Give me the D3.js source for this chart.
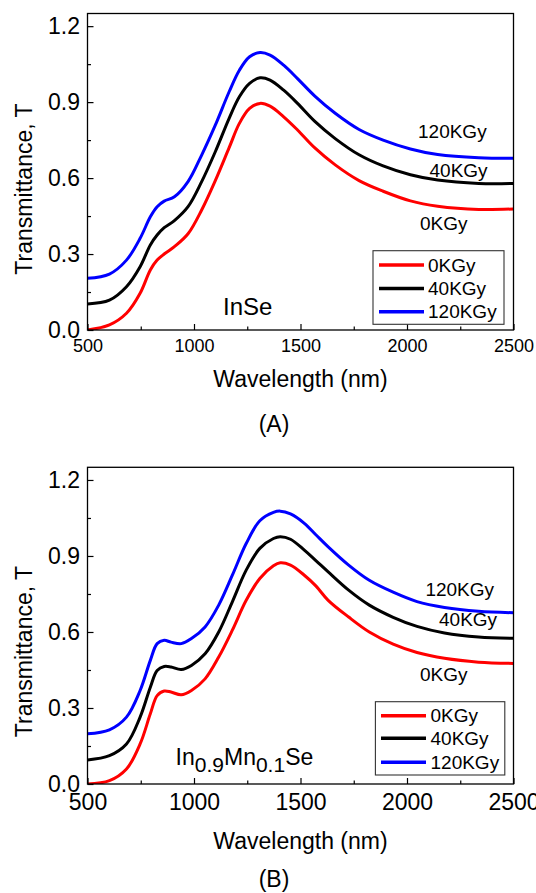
<!DOCTYPE html>
<html>
<head>
<meta charset="utf-8">
<script src="https://cdn.jsdelivr.net/npm/d3@7"></script>
<style>
  html, body { margin: 0; padding: 0; background: #fff; }
  svg { display: block; }
  text { font-family: "Liberation Sans", Arial, sans-serif; fill: #000; }
</style>
</head>
<body>
<svg id="chart" width="536" height="893"></svg>
<script>
// ---------------- DATA ----------------
const seriesNames = ["0KGy", "40KGy", "120KGy"];
const seriesColors = ["#ff0000", "#000000", "#0000ff"];

const xTickValues = [500, 1000, 1500, 2000, 2500];
const xMinorTickValues = [750, 1250, 1750, 2250];
const yTickValues = [0, 0.3, 0.6, 0.9, 1.2];
const yMinorTickValues = [0.15, 0.45, 0.75, 1.05];

// Panel A: InSe
const wavelengthA = [500, 603, 683, 747, 795, 827, 860, 908, 972, 1036, 1100, 1165, 1213, 1261, 1310, 1357, 1421, 1486, 1566, 1663, 1775, 1888, 2016, 2144, 2337, 2500];
const inse0KGy   = [0.000, 0.020, 0.066, 0.145, 0.237, 0.276, 0.300, 0.329, 0.380, 0.474, 0.590, 0.720, 0.816, 0.875, 0.895, 0.884, 0.842, 0.790, 0.720, 0.652, 0.590, 0.548, 0.510, 0.489, 0.476, 0.478];
const inse40KGy  = [0.103, 0.118, 0.171, 0.250, 0.336, 0.375, 0.404, 0.432, 0.487, 0.586, 0.704, 0.836, 0.921, 0.974, 0.996, 0.987, 0.947, 0.895, 0.825, 0.756, 0.692, 0.648, 0.613, 0.592, 0.579, 0.579];
const inse120KGy = [0.204, 0.221, 0.276, 0.362, 0.447, 0.487, 0.509, 0.526, 0.586, 0.691, 0.809, 0.941, 1.026, 1.079, 1.096, 1.086, 1.046, 0.993, 0.925, 0.856, 0.792, 0.750, 0.715, 0.693, 0.680, 0.678];

// Panel B: In0.9Mn0.1Se
const wavelengthB = [500, 603, 683, 747, 795, 827, 860, 892, 940, 988, 1052, 1116, 1180, 1245, 1309, 1373, 1405, 1453, 1518, 1572, 1630, 1726, 1823, 1935, 2047, 2176, 2336, 2500];
const mn0KGy   = [0.000, 0.013, 0.059, 0.158, 0.277, 0.349, 0.367, 0.363, 0.352, 0.369, 0.415, 0.501, 0.607, 0.725, 0.811, 0.861, 0.873, 0.864, 0.824, 0.782, 0.725, 0.659, 0.600, 0.552, 0.519, 0.496, 0.481, 0.476];
const mn40KGy  = [0.095, 0.112, 0.158, 0.264, 0.382, 0.448, 0.464, 0.462, 0.452, 0.468, 0.514, 0.600, 0.719, 0.844, 0.930, 0.969, 0.976, 0.966, 0.923, 0.882, 0.837, 0.765, 0.706, 0.658, 0.622, 0.596, 0.580, 0.575];
const mn120KGy = [0.198, 0.214, 0.264, 0.369, 0.488, 0.554, 0.567, 0.560, 0.554, 0.574, 0.620, 0.706, 0.824, 0.949, 1.039, 1.072, 1.077, 1.066, 1.029, 0.984, 0.936, 0.864, 0.804, 0.757, 0.720, 0.697, 0.682, 0.676];

// ---------------- DRAWING ----------------
const svg = d3.select("#chart");
const FONT = '"Liberation Sans", Arial, sans-serif';

function drawPanel(cfg) {
  const g = svg.append("g");
  const x = d3.scaleLinear().domain([500, 2500]).range([cfg.left, cfg.right]);
  const y = d3.scaleLinear().domain([0, 1.25]).range([cfg.bottom, cfg.top]);

  const clipId = "clip" + cfg.id;
  svg.append("clipPath").attr("id", clipId)
    .append("rect")
    .attr("x", cfg.left).attr("y", cfg.top)
    .attr("width", cfg.right - cfg.left).attr("height", cfg.bottom - cfg.top);

  // curves
  const line = d3.line()
    .x(d => x(d[0]))
    .y(d => y(d[1]))
    .curve(d3.curveCatmullRom.alpha(0.5));

  cfg.series.forEach((vals, i) => {
    const pts = cfg.wavelengths.map((w, j) => [w, vals[j]]);
    g.append("path")
      .attr("clip-path", `url(#${clipId})`)
      .attr("d", line(pts))
      .attr("fill", "none")
      .attr("stroke", seriesColors[i])
      .attr("stroke-width", 3)
      .attr("stroke-linejoin", "round");
  });

  // minor ticks
  g.append("g")
    .attr("transform", `translate(0,${cfg.bottom})`)
    .call(d3.axisBottom(x).tickValues(xMinorTickValues).tickSize(-3.5).tickFormat(""))
    .call(s => s.select(".domain").remove())
    .call(s => s.selectAll("line").attr("stroke", "#000").attr("stroke-width", 1.2));
  g.append("g")
    .attr("transform", `translate(${cfg.left},0)`)
    .call(d3.axisLeft(y).tickValues(yMinorTickValues).tickSize(-3.5).tickFormat(""))
    .call(s => s.select(".domain").remove())
    .call(s => s.selectAll("line").attr("stroke", "#000").attr("stroke-width", 1.2));

  // major ticks
  const xa = g.append("g")
    .attr("transform", `translate(0,${cfg.bottom})`)
    .call(d3.axisBottom(x).tickValues(xTickValues).tickSize(-6).tickPadding(cfg.xPad).tickFormat(d3.format("d")));
  xa.select(".domain").remove();
  xa.selectAll("line").attr("stroke", "#000").attr("stroke-width", 1.2);
  xa.selectAll("text").style("font-family", FONT).style("font-size", cfg.xFont + "px").attr("fill", "#000");

  const ya = g.append("g")
    .attr("transform", `translate(${cfg.left},0)`)
    .call(d3.axisLeft(y).tickValues(yTickValues).tickSize(-6).tickPadding(7.5).tickFormat(d3.format(".1f")));
  ya.select(".domain").remove();
  ya.selectAll("line").attr("stroke", "#000").attr("stroke-width", 1.2);
  ya.selectAll("text").style("font-family", FONT).style("font-size", "23px").attr("fill", "#000");

  // frame
  g.append("rect")
    .attr("x", cfg.left).attr("y", cfg.top)
    .attr("width", cfg.right - cfg.left).attr("height", cfg.bottom - cfg.top)
    .attr("fill", "none").attr("stroke", "#000").attr("stroke-width", 1.3);

  // axis titles
  g.append("text")
    .attr("transform", `translate(32,${cfg.yTitleY}) rotate(-90)`)
    .attr("text-anchor", "middle")
    .style("font-size", "23px")
    .text("Transmittance, T");
  g.append("text")
    .attr("x", (cfg.left + cfg.right) / 2).attr("y", cfg.xTitleY)
    .attr("text-anchor", "middle")
    .style("font-size", "23px")
    .text("Wavelength (nm)");
  g.append("text")
    .attr("x", 274).attr("y", cfg.panelLabelY)
    .attr("text-anchor", "middle")
    .style("font-size", "23px")
    .text(cfg.panelLabel);

  // curve labels
  cfg.curveLabels.forEach((lab, i) => {
    g.append("text")
      .attr("x", lab[0]).attr("y", lab[1])
      .style("font-size", "19px")
      .text(seriesNames[i]);
  });

  // legend
  const L = cfg.legend;
  g.append("rect")
    .attr("x", L.x).attr("y", L.y).attr("width", L.w).attr("height", L.h)
    .attr("fill", "#fff").attr("stroke", "#333").attr("stroke-width", 1.1);
  seriesNames.forEach((name, i) => {
    const ly = L.rows[i];
    g.append("line")
      .attr("x1", L.lineX1).attr("x2", L.lineX2)
      .attr("y1", ly).attr("y2", ly)
      .attr("stroke", seriesColors[i]).attr("stroke-width", 3.5);
    g.append("text")
      .attr("x", L.textX).attr("y", ly).attr("dy", "0.35em")
      .style("font-size", "19px")
      .text(name);
  });

  return g;
}

const gA = drawPanel({
  id: "A", left: 87.5, right: 513.5, top: 13.5, bottom: 330,
  wavelengths: wavelengthA, series: [inse0KGy, inse40KGy, inse120KGy],
  xFont: 18, xPad: 9.2, yTitleY: 189, xTitleY: 387, panelLabel: "(A)", panelLabelY: 432,
  curveLabels: [[420, 229.5], [429.5, 176.5], [418, 137.5]],
  legend: { x: 373, y: 250.7, w: 131, h: 73.6, rows: [265, 288.5, 311.7], lineX1: 379, lineX2: 424, textX: 428 }
});
gA.append("text")
  .attr("x", 223).attr("y", 315)
  .style("font-size", "24px")
  .text("InSe");

const gB = drawPanel({
  id: "B", left: 87.5, right: 513.5, top: 467.3, bottom: 784,
  wavelengths: wavelengthB, series: [mn0KGy, mn40KGy, mn120KGy],
  xFont: 23, xPad: 9.5, yTitleY: 651.5, xTitleY: 849, panelLabel: "(B)", panelLabelY: 887,
  curveLabels: [[420, 681], [439, 626], [425.4, 596]],
  legend: { x: 375.4, y: 701.7, w: 129.4, h: 73.3, rows: [715.7, 738.3, 762.3], lineX1: 381, lineX2: 426, textX: 430.5 }
});
const formula = gB.append("text")
  .attr("x", 175.6).attr("y", 765)
  .style("font-size", "23px");
formula.append("tspan").text("In");
formula.append("tspan").attr("dy", 6.6).style("font-size", "21px").text("0.9");
formula.append("tspan").attr("dy", -6.6).text("Mn");
formula.append("tspan").attr("dy", 6.6).style("font-size", "21px").text("0.1");
formula.append("tspan").attr("dy", -6.6).text("Se");
</script>
</body>
</html>
